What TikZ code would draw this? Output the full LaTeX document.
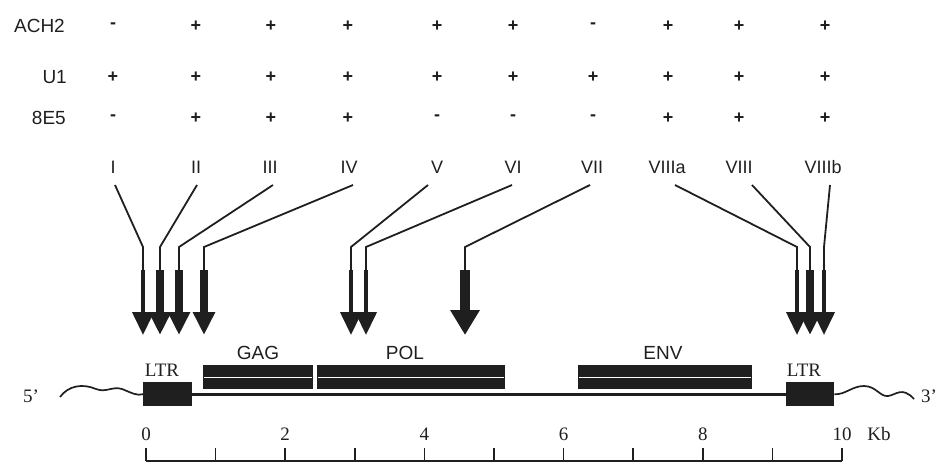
\documentclass[tikz,border=0pt]{standalone}
\usepackage{fontspec}
\setmainfont{Liberation Serif}
\setsansfont{Liberation Sans}
\usetikzlibrary{arrows.meta}
\definecolor{ink}{gray}{0.12}
\begin{document}
\begin{tikzpicture}[x=1pt,y=-1pt,
 tabtxt/.style={font=\sffamily\fontsize{19}{19}\selectfont, inner sep=0pt, text=ink},
 signtxt/.style={font=\sffamily\bfseries\fontsize{18}{18}\selectfont, inner sep=0pt, text=ink},
 romtxt/.style={font=\sffamily\fontsize{18}{18}\selectfont, inner sep=0pt, text=ink},
 sertxt/.style={font=\fontsize{19}{19}\selectfont, inner sep=0pt, text=ink},
 leader/.style={line width=1.8pt, draw=ink},
 shaftthin/.style={line width=4pt, draw=ink, -{Triangle[width=21pt,length=23pt]}},
 shaftthick/.style={line width=8pt, draw=ink, -{Triangle[width=21pt,length=23pt]}},
 shaftbig/.style={line width=10pt, draw=ink, -{Triangle[width=28pt,length=25pt]}},
 genebox/.style={fill=ink, draw=none, inner sep=0pt, anchor=north west},
]
\useasboundingbox (0,0) rectangle (936,463);

% table
\node[tabtxt, anchor=east] (rA) at (65,26) {ACH2};
\node[tabtxt, anchor=east] (rU) at (67,77) {U1};
\node[tabtxt, anchor=east] (rE) at (66,118) {8E5};
\foreach \x/\s [count=\i] in {113/-,196/+,271/+,348/+,437/+,513/+,593/-,668/+,739/+,825/+}
  \node[signtxt] (a\i) at (\x,26) {\s};
\foreach \x/\s [count=\i] in {113/+,196/+,271/+,348/+,437/+,513/+,593/+,668/+,739/+,825/+}
  \node[signtxt] (u\i) at (\x,77) {\s};
\foreach \x/\s [count=\i] in {113/-,196/+,271/+,348/+,437/-,513/-,593/-,668/+,739/+,825/+}
  \node[signtxt] (e\i) at (\x,118) {\s};

% site labels
\foreach \x/\t [count=\i] in {113/I,196/II,270/III,349/IV,437/V,513/VI,592/VII,667/VIIIa,739/VIII,823/VIIIb}
  \node[romtxt] (l\i) at (\x,167) {\t};

% leader coordinates: start, bend, shaft top, tip
\foreach \sx/\bx/\i in {115/143/1,197/160/2,273/179/3,353/204/4,428/351/5,512/366/6,590/465/7,675/797/8,752/810/9,830/824/10}{
  \coordinate (s\i) at (\sx,185);
  \coordinate (b\i) at (\bx,247);
  \coordinate (t\i) at (\bx,270);
  \coordinate (p\i) at (\bx,335);
}
\foreach \i in {1,...,10}
  \draw[leader] (s\i) -- (b\i) -- (t\i);
\foreach \i in {1,5,6,8,10}
  \draw[shaftthin] (t\i) -- (p\i);
\foreach \i in {2,3,4,9}
  \draw[shaftthick] (t\i) -- (p\i);
\draw[shaftbig] (t7) -- (p7);

% genome
\node[genebox, minimum width=49pt, minimum height=24pt] (ltrL) at (143,382) {};
\node[genebox, minimum width=48pt, minimum height=24pt] (ltrR) at (786,382) {};
\draw[line width=2.6pt, ink] (ltrL.east) -- (ltrR.west);
\node[genebox, minimum width=110pt, minimum height=24pt] (gag) at (203,365) {};
\node[genebox, minimum width=188pt, minimum height=24pt] (pol) at (317,365) {};
\node[genebox, minimum width=174pt, minimum height=24pt] (env) at (578,365) {};
\foreach \g in {gag,pol,env}
  \draw[white, line width=1.3pt] ([xshift=1pt]\g.west) -- ([xshift=-1pt]\g.east);

\node[sertxt] (tL) at (162,370) {LTR};
\node[sertxt] (tR) at (804,370) {LTR};
\node[tabtxt] (tG) at (258,353) {GAG};
\node[tabtxt] (tP) at (405,353) {POL};
\node[tabtxt] (tE) at (663,353) {ENV};

\coordinate (w5) at (60,397);
\coordinate (w3) at (914,399);
\draw[line width=1.7pt, ink] (w5) .. controls (68,386) and (82,383) .. (96,389)
  .. controls (106,393) and (112,386) .. (122,389) .. controls (132,393) and (137,396) .. (ltrL.west);
\draw[line width=1.7pt, ink] (ltrR.east) .. controls (845,395) and (852,386) .. (864,386)
  .. controls (876,386) and (880,397) .. (888,396) .. controls (896,395) and (902,386) .. (w3);
\node[sertxt] (n5) at (31,396) {5'};
\node[sertxt] (n3) at (929,396) {3'};

% scale
\draw[line width=1.6pt, ink] (146,461) -- (842,461);
\foreach \k in {0,...,10}
  \draw[line width=1.6pt, ink] ({146+69.6*\k},448) -- ({146+69.6*\k},461);
\foreach \k in {0,2,4,6,8,10}
  \node[sertxt] (k\k) at ({146+69.6*\k},434) {\k};
\node[sertxt] (kb) at (879,434) {Kb};
\end{tikzpicture}
\end{document}
